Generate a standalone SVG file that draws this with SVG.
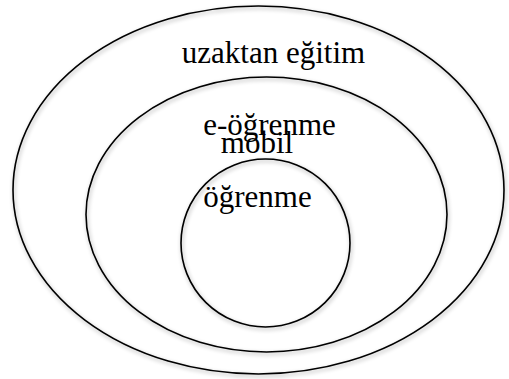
<svg xmlns="http://www.w3.org/2000/svg" width="509" height="379" viewBox="0 0 509 379">
  <style>
    .ring { fill: none; stroke: #000; stroke-width: 1.6; filter: url(#glow); }
    .lbl { font-family: "Liberation Serif", "Times New Roman", serif; font-size: 31px; fill: #000; text-anchor: middle; }
  </style>
  <defs>
    <filter id="glow" x="-10%" y="-10%" width="120%" height="120%">
      <feGaussianBlur in="SourceAlpha" stdDeviation="2.2" result="b"/>
      <feOffset in="b" dx="1" dy="1.5" result="o"/>
      <feComponentTransfer in="o" result="s">
        <feFuncA type="linear" slope="0.35"/>
      </feComponentTransfer>
      <feMerge>
        <feMergeNode in="s"/>
        <feMergeNode in="SourceGraphic"/>
      </feMerge>
    </filter>
  </defs>
  <rect width="509" height="379" fill="#fff"/>
  <g id="uzaktan-egitim">
    <ellipse class="ring" cx="258.5" cy="190" rx="245.5" ry="184"/>
    <text class="lbl" x="273.5" y="63">uzaktan eğitim</text>
  </g>
  <g id="e-ogrenme">
    <ellipse class="ring" cx="266.5" cy="214.5" rx="180.5" ry="137.5"/>
    <text class="lbl" x="269.5" y="135">e-öğrenme</text>
  </g>
  <g id="mobil-ogrenme">
    <ellipse class="ring" cx="265.5" cy="243" rx="84.5" ry="84"/>
    <text class="lbl" x="257" y="153">mobil</text>
    <text class="lbl" x="257.5" y="207">öğrenme</text>
  </g>
</svg>
